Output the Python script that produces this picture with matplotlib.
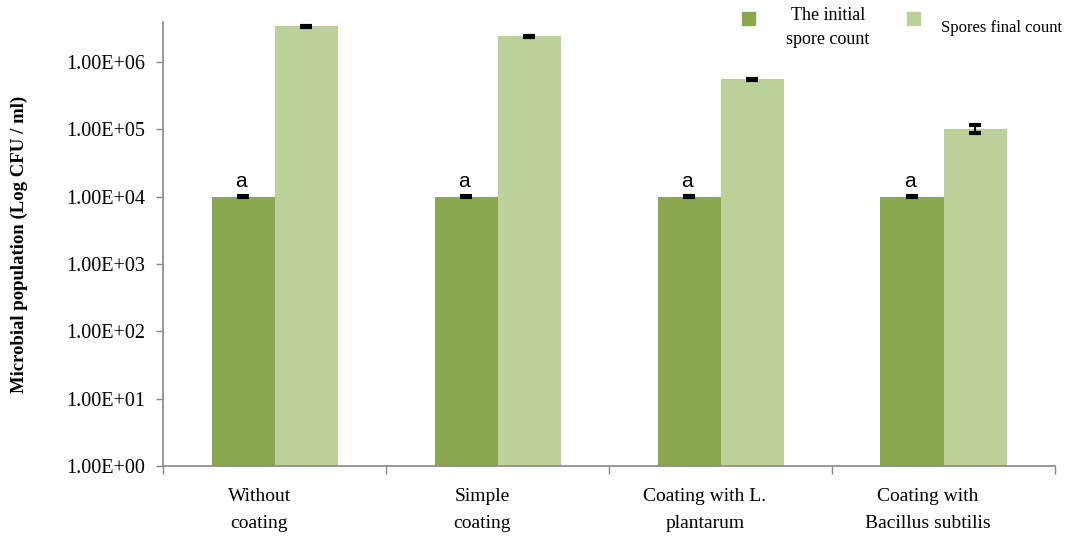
import numpy as np
import matplotlib.pyplot as plt

# 資料
categories = ["Without\ncoating", "Simple\ncoating", "Coating with L.\nplantarum",
              "Coating with\nBacillus subtilis"]
initial_count = [1.0e4, 1.0e4, 1.0e4, 1.0e4]
initial_err = [300, 300, 300, 300]
final_count = [3.35e6, 2.38e6, 5.45e5, 1.0e5]
final_err = [6e4, 5e4, 1.2e4, 1.3e4]
letters = ["a", "a", "a", "a"]
series_names = ["The initial\nspore count", "Spores final count"]

dark = "#8ba84f"
light = "#bcd19a"

plt.rcParams["font.family"] = ["Liberation Serif", "DejaVu Serif"]

fig = plt.figure(figsize=(10.65, 5.36), dpi=100)
ax = fig.add_axes([0.1533, 0.1297, 0.8373, 0.8298])

x = np.arange(len(categories))
w = 0.283
ax.bar(x - w / 2, initial_count, w, color=dark, bottom=1)
ax.bar(x + w / 2, final_count, w, color=light, bottom=1)
ax.errorbar(x - w / 2, initial_count, yerr=initial_err, fmt="none", ecolor="black",
            elinewidth=1.5, capsize=4.5, capthick=3)
ax.errorbar(x + w / 2, final_count, yerr=final_err, fmt="none", ecolor="black",
            elinewidth=1.5, capsize=4.5, capthick=3)

for xi, v, t in zip(x, initial_count, letters):
    ax.text(xi - w / 2 - 0.01, v * 1.22, t, ha="center", va="bottom", fontsize=15,
            family=["Liberation Sans", "DejaVu Sans"])

ax.set_yscale("log")
ax.set_ylim(1, 10 ** 6.59)
ax.set_xlim(-0.5, len(categories) - 0.5)
ax.set_yticks([10.0 ** k for k in range(7)])
ax.set_yticklabels(["1.00E+%02d" % k for k in range(7)], fontsize=14.5)
ax.minorticks_off()
ax.tick_params(axis="y", length=5, color="#888888", width=1, pad=8)

ax.set_xticks(np.arange(len(categories) + 1) - 0.5)
ax.set_xticklabels([])
ax.tick_params(axis="x", length=6, color="#888888", width=1)
for xi, c in zip(x, categories):
    ax.text(xi - 0.07, -0.048, c, transform=ax.get_xaxis_transform(), ha="center",
            va="top", fontsize=14, linespacing=1.75)

for s in ["top", "right"]:
    ax.spines[s].set_visible(False)
for s in ["left", "bottom"]:
    ax.spines[s].set_color("#888888")
    ax.spines[s].set_linewidth(1.2)

ax.set_ylabel("Microbial population (Log CFU / ml)", fontsize=13.5, fontweight="bold")
ax.yaxis.set_label_coords(-0.152, 0.5)

# 圖例 (手動排版)
fig.patches.append(plt.Rectangle((742 / 1065, 1 - 25 / 536), 13 / 1065, 13 / 536,
                                 color=dark, transform=fig.transFigure))
fig.text(828 / 1065, 1 - 7 / 536, series_names[0], ha="center", va="top", fontsize=13,
         linespacing=1.55)
fig.patches.append(plt.Rectangle((907 / 1065, 1 - 25 / 536), 13 / 1065, 13 / 536,
                                 color=light, transform=fig.transFigure))
fig.text(1002 / 1065, 1 - 20 / 536, series_names[1], ha="center", va="top", fontsize=12)

fig.savefig("out.png", dpi=100)
